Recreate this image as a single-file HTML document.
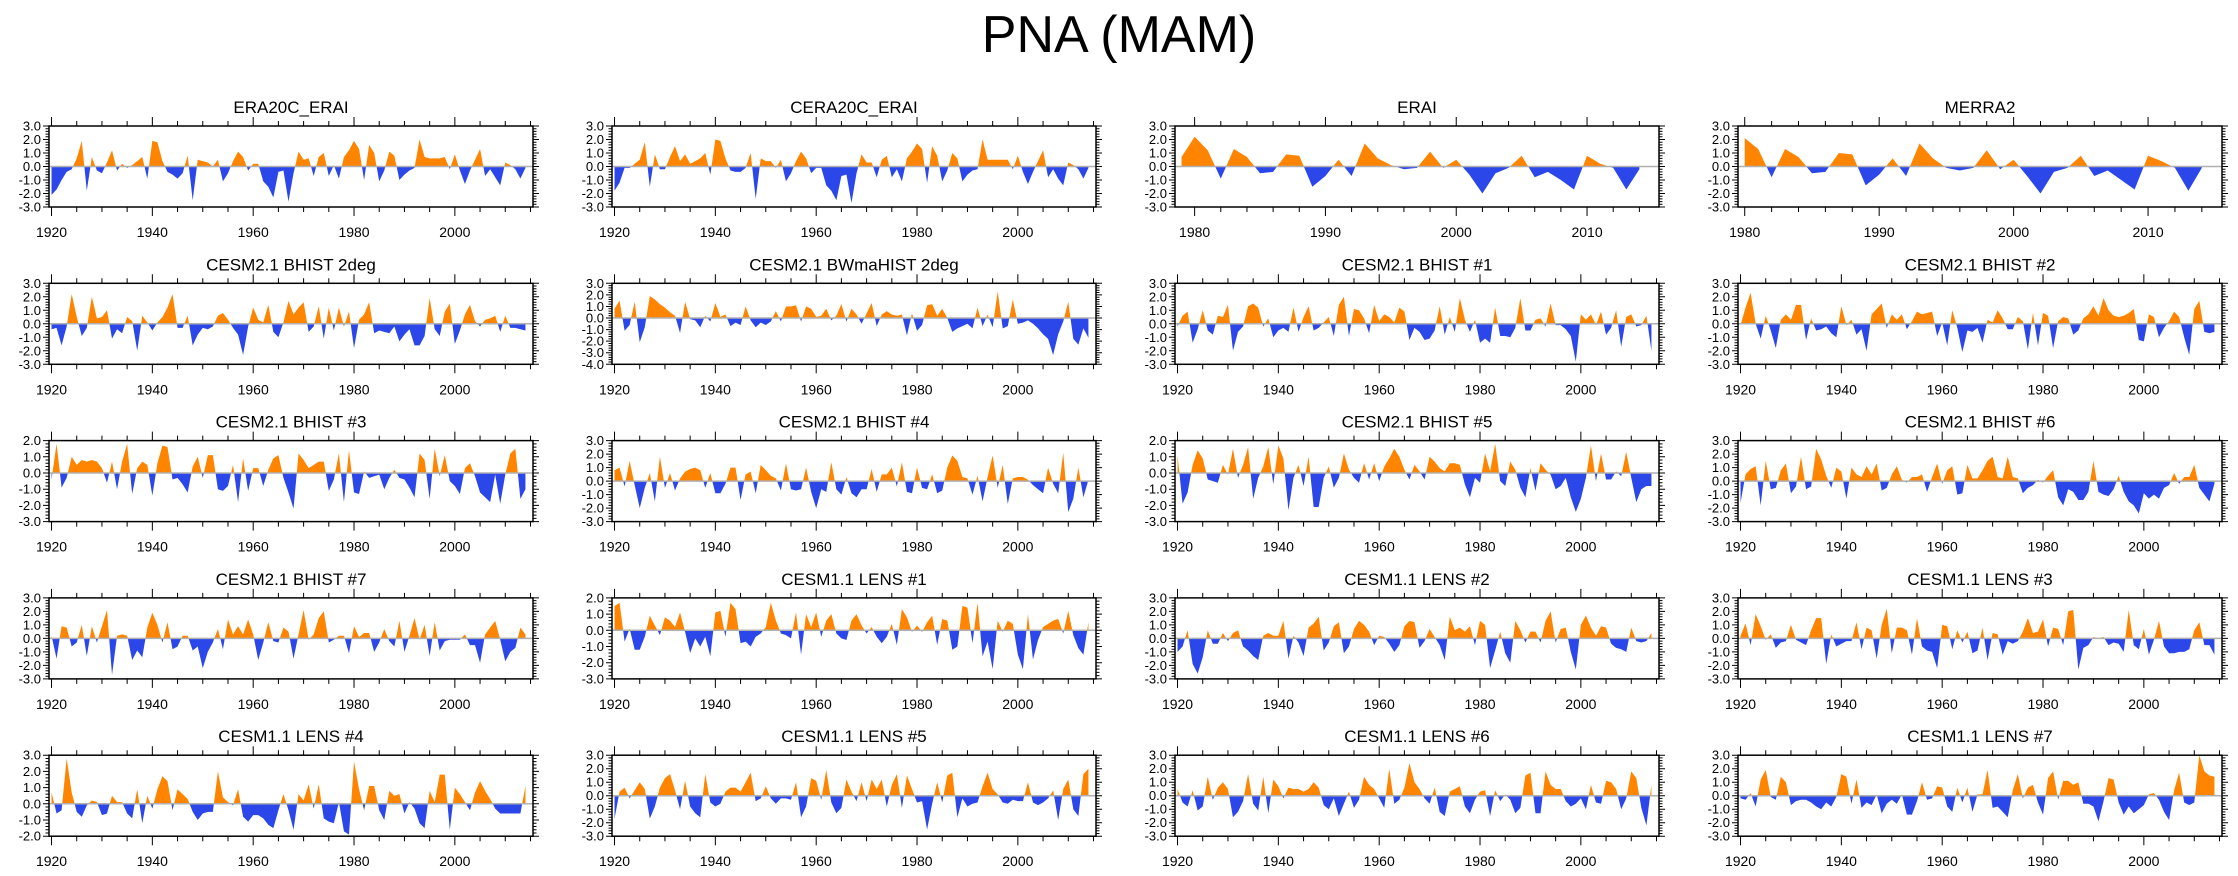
<!DOCTYPE html>
<html>
<head>
<meta charset="utf-8">
<style>
html,body{margin:0;padding:0;background:#fff;}
svg{display:block;font-family:"Liberation Sans",Arial,sans-serif;}
</style>
</head>
<body>
<svg id="chart" width="2238" height="876" viewBox="0 0 2238 876" xmlns="http://www.w3.org/2000/svg">
<text x="1119" y="52" text-anchor="middle" font-size="52" fill="#000">PNA (MAM)</text>
</svg>
<script>
// ---- data (PNA index anomalies, one value per year) ----
const titles = ["ERA20C_ERAI","CERA20C_ERAI","ERAI","MERRA2",
"CESM2.1 BHIST 2deg","CESM2.1 BWmaHIST 2deg","CESM2.1 BHIST #1","CESM2.1 BHIST #2",
"CESM2.1 BHIST #3","CESM2.1 BHIST #4","CESM2.1 BHIST #5","CESM2.1 BHIST #6",
"CESM2.1 BHIST #7","CESM1.1 LENS #1","CESM1.1 LENS #2","CESM1.1 LENS #3",
"CESM1.1 LENS #4","CESM1.1 LENS #5","CESM1.1 LENS #6","CESM1.1 LENS #7"];
const startYears = [1920,1920,1979,1980, 1920,1920,1920,1920, 1920,1920,1920,1920, 1920,1920,1920,1920, 1920,1920,1920,1920];
const yMins = [-3,-3,-3,-3, -3,-4,-3,-3, -3,-3,-3,-3, -3,-3,-3,-3, -2,-3,-3,-3];
const yMaxs = [3,3,3,3, 3,3,3,3, 2,3,2,3, 3,2,3,3, 3,3,3,3];

const era20c = [-2.1,-1.7,-1.0,-0.4,-0.2,0.6,1.9,-1.8,0.7,-0.3,
-0.5,0.3,1.2,-0.3,0.2,-0.1,0.1,0.4,0.7,-0.9,
1.9,1.8,0.4,-0.4,-0.6,-0.9,-0.5,0.8,-2.5,0.5,
0.4,0.3,0.0,0.5,-1.1,-0.5,0.4,1.1,0.7,-0.3,
0.2,0.2,-1.1,-1.5,-2.3,-0.4,-0.3,-2.6,-0.5,1.1,
0.5,0.6,-0.7,0.7,1.0,-0.7,0.1,-0.9,0.7,1.2,
1.9,1.3,-1.0,1.6,1.0,-1.1,-0.3,1.1,0.8,-1.0,
-0.6,-0.3,-0.1,2.0,0.7,0.6,0.6,0.6,0.7,-0.2,
0.9,-0.3,-1.3,-0.3,0.5,1.3,-0.7,-0.2,-0.8,-1.4,
0.3,0.1,-0.2,-0.9,-0.1];
const cera20c = [-1.8,-1.2,-0.1,-0.1,0.2,0.5,1.8,-1.5,0.9,-0.2,
-0.2,0.7,1.5,0.4,0.9,0.2,0.4,0.6,1.0,-0.6,
2.0,1.9,0.6,-0.3,-0.4,-0.4,-0.1,1.0,-2.4,0.6,
0.4,0.4,-0.1,0.5,-1.1,-0.5,0.4,1.1,0.6,-0.5,
-0.1,-0.1,-1.4,-1.8,-2.5,-0.7,-0.6,-2.7,-0.5,0.9,
0.3,0.3,-0.8,0.5,0.8,-0.8,-0.2,-1.1,0.6,1.1,
1.7,1.3,-1.2,1.5,0.8,-1.1,-0.3,1.0,0.6,-1.1,
-0.6,-0.3,-0.2,2.0,0.5,0.5,0.5,0.5,0.5,-0.2,
0.8,-0.4,-1.3,-0.4,0.4,1.2,-0.8,-0.2,-0.9,-1.4,
0.3,0.1,-0.2,-0.9,-0.1];
const erai = [0.7,2.2,1.2,-0.9,1.3,0.7,-0.5,-0.4,0.9,0.8,-1.5,-0.7,0.5,-0.7,1.7,0.6,0.1,-0.2,-0.1,1.1,-0.1,0.5,-0.6,-2.0,-0.5,-0.1,0.8,-0.8,-0.4,-1.0,-1.7,0.8,0.2,-0.1,-1.7,-0.2];
const merra2 = [2.1,1.3,-0.8,1.3,0.7,-0.5,-0.4,1.0,0.9,-1.4,-0.6,0.6,-0.7,1.7,0.6,-0.1,-0.3,-0.1,1.2,-0.2,0.5,-0.7,-2.0,-0.4,-0.1,0.8,-0.7,-0.3,-1.0,-1.7,0.8,0.4,-0.1,-1.8,-0.1];
const bhist2deg = [-0.4,-0.3,-1.6,-0.2,2.2,0.5,-0.9,-0.3,2.0,0.4,
0.5,1.0,-1.1,-0.4,-0.7,0.5,0.2,-2.0,0.6,0.1,
-0.5,0.1,0.5,1.2,2.2,-0.3,-0.3,0.6,-1.6,-0.8,
-0.3,-0.4,-0.2,0.6,0.8,0.3,-0.3,-0.8,-2.3,-0.2,
1.2,0.3,0.1,1.4,-0.6,-1.0,0.1,1.7,0.7,1.2,
1.6,-0.6,-0.2,1.3,-1.1,1.2,-0.5,1.2,-0.2,0.9,
-1.8,0.3,0.7,1.6,-0.7,-0.5,-0.6,-0.7,-0.2,-1.3,
-0.8,-0.4,-1.6,-1.6,-0.9,1.9,-0.4,-0.9,0.9,1.5,
-1.5,-0.5,0.7,1.4,0.2,-0.2,0.3,0.4,0.6,-0.6,
0.6,-0.3,-0.3,-0.4,-0.5];
const bwmahist = [0.8,1.5,-1.1,-0.6,1.4,-2.1,-0.8,1.9,1.6,1.2,
0.9,0.5,0.2,-1.3,1.4,-0.1,-0.2,-0.8,0.2,-0.3,
1.3,0.1,0.3,-0.7,-0.4,-0.6,1.0,-0.2,-0.8,-0.4,
-0.6,-0.3,0.6,-0.3,1.0,1.0,1.1,-0.3,1.0,0.8,
0.1,0.2,0.8,-0.2,0.2,1.2,-0.3,0.8,0.3,-0.5,
0.4,1.3,-0.7,0.3,0.6,0.3,0.2,0.3,-1.5,0.4,
-1.1,-0.6,1.1,1.2,0.2,0.8,0.0,-1.2,-0.9,-0.7,
-0.5,-0.9,0.9,-0.7,0.3,-0.8,2.3,-0.9,-0.7,1.6,
-0.5,-0.4,-0.2,-0.5,-0.9,-1.4,-1.8,-3.2,-1.4,-0.3,
1.4,-1.8,-2.3,-0.9,-1.7];
const bhist1 = [-0.2,0.6,0.9,-1.4,-0.4,1.0,-0.5,-0.8,0.6,0.5,
1.4,-2.0,-0.6,-0.2,1.3,1.5,1.2,-0.2,0.4,-1.0,
-0.5,-0.3,-0.6,1.2,-0.6,0.5,1.3,-0.5,-0.3,0.1,
0.5,-0.9,1.4,2.0,-0.9,1.1,1.0,0.4,-0.7,1.4,
0.2,0.7,0.5,0.1,1.2,0.9,-1.2,-0.3,-0.6,-1.2,
-1.1,-0.5,1.3,-0.8,0.5,-0.6,1.9,0.3,-0.6,0.3,
-1.4,-1.1,-1.4,1.2,-0.9,-0.9,-1.0,-0.3,1.9,-0.5,
-0.5,0.3,0.4,-0.2,1.5,-0.1,-0.1,-0.4,-0.9,-2.8,
0.7,0.3,0.7,-0.1,0.9,-0.8,-0.3,1.0,-1.7,0.5,
0.7,-0.2,-0.1,0.6,-2.0];
const bhist2 = [-0.1,1.2,2.3,0.0,-1.1,0.6,-0.5,-1.8,0.3,0.7,
0.3,1.4,1.4,-1.2,0.4,-0.5,-0.4,-0.2,-0.7,-1.0,
1.3,-0.1,0.3,-0.8,-0.4,-2.0,0.7,1.1,1.5,-0.3,
0.7,0.3,0.7,-0.4,0.2,0.9,0.7,0.8,0.9,-0.9,
0.1,-1.6,1.0,-0.3,-2.1,-0.5,-0.6,-0.3,-1.4,0.3,
0.1,1.0,0.4,-0.4,-0.4,0.5,0.2,-1.9,0.8,-1.6,
0.8,0.6,-1.8,0.2,0.5,0.4,-0.8,-0.5,0.4,0.7,
1.3,0.6,1.9,1.0,0.6,0.5,0.6,0.8,1.1,-1.2,
-1.3,0.7,0.5,-1.0,-0.3,0.2,0.9,0.5,-1.0,-2.3,
1.1,1.7,-0.6,-0.7,-0.6];
const bhist3 = [-0.4,1.8,-0.9,-0.3,1.0,0.5,0.8,0.7,0.8,0.7,
0.3,-0.6,0.7,-1.0,0.7,1.8,-1.3,0.3,0.7,0.5,
-1.4,0.6,1.7,1.6,-0.4,-0.3,-0.7,-1.2,0.4,1.0,
-0.3,1.1,1.1,-1.0,-1.1,-0.8,0.5,-1.8,0.9,-1.1,
0.3,0.3,-0.8,0.2,0.9,1.1,-0.3,-1.2,-2.2,1.2,
0.8,0.3,0.5,0.7,0.7,-1.1,-0.4,1.2,-1.8,1.4,
-1.2,-1.3,0.1,-0.3,-0.2,-0.1,-1.0,-0.3,0.2,-0.3,
-0.4,-0.9,-1.5,1.2,0.8,-1.6,1.5,-0.2,1.1,-0.5,
-0.8,-1.3,0.3,0.6,-0.2,-1.2,-1.5,-1.8,-0.1,-1.9,
-0.1,1.2,1.5,-1.6,-1.0];
const bhist4 = [0.8,1.0,-0.4,1.5,-0.3,-2.0,-0.5,0.6,-1.5,1.8,
-0.5,0.6,-0.7,0.2,0.7,0.9,1.0,0.8,-0.5,0.6,
-0.9,-0.9,-0.2,1.0,1.0,-1.4,0.5,0.7,-0.9,1.2,
0.8,0.4,0.2,-0.7,1.3,-0.6,-0.7,-0.6,1.0,-0.8,
-2.0,-0.6,-0.8,1.4,-0.6,-1.0,0.3,-0.9,-1.2,-0.6,
-0.6,0.9,-0.8,0.5,0.5,1.0,-0.4,1.4,-0.8,-0.9,
1.0,-0.5,-0.6,0.5,-0.9,-0.7,1.0,1.9,1.5,0.3,
0.2,-1.0,0.4,-1.5,0.3,1.9,-0.5,1.2,-1.7,0.2,
0.3,0.3,0.1,-0.3,-0.6,-0.9,1.0,-0.2,-0.9,2.1,
-2.3,-1.3,1.0,-1.2,0.1];
const bhist5 = [1.1,-1.9,-1.2,0.5,1.4,0.9,-0.4,-0.5,-0.6,0.5,
-0.1,1.5,-0.3,0.5,1.6,-1.6,-0.3,0.4,1.6,-0.7,
1.7,0.9,-2.3,-0.3,0.5,-0.8,1.0,-2.1,-2.1,-0.3,
0.4,-0.9,-0.3,1.2,0.2,-0.3,-0.6,0.6,-0.4,0.6,
-0.5,0.4,0.9,1.5,1.0,0.2,-0.4,0.5,0.1,-0.4,
1.0,0.7,0.3,0.1,0.6,0.6,0.5,-0.7,-1.5,-0.3,
-0.6,1.2,0.1,1.8,-0.5,-0.8,0.7,0.2,-0.9,-1.5,
0.3,-1.1,0.6,0.2,-0.1,-1.0,-0.8,-0.3,-1.5,-2.4,
-1.6,-0.3,1.7,-0.5,1.2,-0.4,-0.4,0.1,-0.2,1.3,
-0.3,-1.8,-1.0,-0.8,-0.8];
const bhist6 = [-1.6,0.5,0.9,1.1,-1.8,1.5,-0.6,-0.5,0.8,1.3,
-0.9,-0.4,1.8,-0.6,-0.4,2.4,1.6,0.4,-0.5,1.0,
0.7,-1.3,1.0,0.5,0.3,1.1,0.5,1.3,-0.7,-0.5,
0.5,1.1,0.1,-0.1,0.3,0.3,0.5,-0.8,0.3,1.3,
-0.2,0.8,1.1,-1.0,-0.9,1.2,0.2,0.2,0.8,1.5,
1.8,0.3,0.2,1.8,0.3,0.2,-0.9,-0.5,-0.3,0.1,
-0.1,0.4,0.8,-1.2,-1.8,-0.6,-0.8,-1.4,-1.4,-0.8,
1.5,-0.8,-1.0,-1.1,-0.6,0.4,-0.8,-1.5,-1.8,-2.4,
-0.9,-1.3,-1.0,-1.3,-0.5,-0.3,0.6,-0.2,0.3,0.3,
1.2,-0.5,-1.0,-1.5,-0.2];
const bhist7 = [0.2,-1.5,0.9,0.8,-0.6,-0.3,1.0,-1.3,0.9,-0.3,
0.9,2.1,-2.7,0.2,0.3,0.2,-1.6,-0.9,-1.4,0.8,
1.9,1.0,-0.3,1.2,-0.8,-0.6,0.2,0.2,-0.9,-0.6,
-2.2,-1.0,-0.3,0.7,-0.8,1.4,0.3,0.9,0.3,1.4,
0.3,-1.6,-0.3,1.2,-0.2,-0.3,0.8,0.5,-1.5,0.3,
2.1,-0.1,0.3,1.5,2.0,-0.3,-0.1,0.2,0.2,-1.1,
0.9,0.1,0.4,0.4,-1.0,-0.3,0.7,-0.2,-0.6,1.3,
-1.0,0.2,1.5,-0.1,1.0,-1.3,1.2,-0.9,-0.2,-0.1,
-0.1,-0.1,0.3,-0.5,-0.5,-1.8,0.3,0.8,1.3,-0.1,
-1.7,-1.0,-0.7,0.8,0.3];
const lens1 = [1.5,1.7,-0.7,0.1,-1.2,-1.2,-0.4,0.9,0.3,-0.3,
0.8,0.6,0.2,1.1,-0.1,-1.4,-0.5,-1.0,-0.4,-1.6,
1.1,1.2,-0.4,1.7,1.3,-0.8,-0.7,-1.0,-0.4,-0.2,
0.2,1.7,0.6,-0.2,-0.3,-0.5,1.1,-1.5,1.0,0.2,
1.1,-0.4,0.6,1.0,-0.2,-0.5,-0.6,0.6,1.0,0.3,
-0.2,0.2,-0.4,-0.8,-0.4,0.4,-0.9,1.3,0.8,-0.1,
0.3,-0.1,0.5,0.9,-0.9,0.7,0.6,-1.2,-1.0,1.5,
1.4,-0.8,1.7,-1.6,-0.7,-2.4,0.6,-0.1,0.6,0.4,
-1.5,-2.4,1.0,-1.8,-0.6,0.2,0.4,0.6,0.7,-0.2,
1.2,-0.3,-1.1,-1.5,0.5];
const lens2 = [-1.0,-0.6,0.6,-1.9,-2.6,-1.4,0.6,-0.4,-0.4,0.4,
-0.2,0.4,0.6,-0.6,-0.9,-1.3,-1.6,0.2,0.4,0.2,
0.2,1.3,-1.5,0.2,-0.3,-1.3,0.8,1.1,1.6,-0.9,
-0.3,0.9,1.2,-1.1,-0.6,0.7,1.3,1.0,0.5,-0.5,
0.2,0.1,-0.4,-1.0,-0.5,0.9,1.3,1.2,-0.7,-0.2,
0.7,0.1,-0.5,-1.6,1.6,0.6,0.8,0.5,0.9,-0.5,
1.3,1.0,-2.2,-0.9,0.5,-1.1,-1.8,1.3,0.6,-0.3,
0.5,0.5,-0.3,1.3,2.0,-0.3,0.7,0.8,-1.0,-2.3,
1.0,1.7,0.8,0.2,0.9,0.8,-0.4,-0.7,-0.8,-1.0,
0.8,-0.2,-0.3,-0.2,0.4];
const lens3 = [0.2,1.1,-0.5,1.8,0.9,-0.1,0.3,-0.7,-0.3,-0.2,
1.0,-0.1,-0.3,-0.5,0.6,1.5,1.5,-1.9,0.3,-0.6,
-0.4,-0.2,-0.2,1.2,-0.8,0.8,0.6,-1.5,1.0,2.2,
-1.1,0.8,0.8,0.6,-1.2,1.5,-0.6,-0.9,-1.0,-2.2,
1.0,0.9,-0.8,0.6,-0.3,0.5,-1.1,-0.9,0.8,-1.6,
0.4,0.3,-1.2,-0.2,-0.4,-0.2,0.5,1.5,0.4,0.5,
1.4,-0.6,0.8,0.7,-0.5,2.0,2.1,-2.3,-0.7,-0.5,
0.1,0.0,0.1,-0.5,-0.3,-0.4,-1.0,2.1,-0.5,-0.8,
0.7,-1.2,-0.1,1.3,-0.6,-1.1,-1.1,-1.0,-1.0,-0.8,
0.6,1.2,-0.5,-0.5,-1.2];
const lens4 = [0.7,-0.6,-0.4,2.8,0.7,-0.5,-0.8,-0.1,0.2,0.1,
-0.7,-0.6,0.5,0.1,0.1,-0.6,-0.9,0.9,-1.2,0.5,
-0.3,0.9,1.7,1.4,-0.4,0.9,0.6,0.3,-0.5,-1.0,
-0.6,-0.5,-0.5,2.0,0.4,0.1,-0.1,0.9,-0.8,-1.1,
-0.7,-0.7,-0.9,-1.3,-1.5,-0.4,0.6,-0.4,-1.6,0.6,
0.2,1.2,-0.3,1.2,-0.9,-1.1,-1.2,0.1,-1.7,-1.9,
2.6,0.9,-0.4,1.1,1.1,-0.4,-1.0,0.8,0.5,0.6,
-0.6,0.1,-0.3,-1.2,-1.5,0.8,0.1,1.8,1.8,-1.6,
1.0,0.6,0.1,-0.4,0.7,1.4,0.8,0.3,-0.3,-0.6,
-0.6,-0.6,-0.6,-0.6,1.1];
const lens5 = [-1.7,0.3,0.6,-0.2,0.4,1.0,0.5,-1.7,-0.8,0.6,
1.3,1.6,0.4,-1.0,1.1,-0.8,-1.3,-1.6,1.6,-0.5,
-0.8,-0.6,0.3,0.6,0.6,0.3,1.0,1.7,-0.4,-0.2,
0.7,-0.2,-0.6,-0.2,-0.2,-0.3,1.0,-1.6,-0.8,1.3,
1.1,-0.3,1.9,-0.5,-1.3,-0.9,1.2,0.3,-0.4,1.0,
-0.4,1.2,0.5,1.2,-0.8,0.8,1.6,-0.9,1.5,0.5,
-0.5,-0.4,-2.5,-0.6,1.0,-0.5,1.5,1.7,-1.6,-0.2,
-0.8,-0.6,-0.5,0.7,1.7,0.5,0.1,-0.5,-0.6,-0.3,
-0.4,-0.4,1.0,-0.5,-0.7,-0.5,-0.2,0.4,-1.8,0.5,
1.2,-1.0,-1.5,1.6,2.0];
const lens6 = [0.5,-0.5,-0.8,0.4,-1.1,-0.8,1.4,-0.3,0.6,1.0,
0.5,-1.6,-1.2,-0.4,1.6,-0.6,-1.1,1.4,-1.3,1.2,
0.7,-0.2,0.6,0.5,0.5,0.3,0.5,1.0,0.6,-0.7,
-1.0,-0.2,-1.5,-0.6,0.3,-0.9,-0.3,1.4,0.8,0.5,
-0.2,-0.9,2.0,-0.6,-0.3,0.6,2.4,1.0,0.5,-0.2,
-0.6,0.6,-1.2,-1.5,0.3,0.5,0.7,-0.8,-1.3,-0.3,
0.3,0.4,-1.5,0.4,-0.4,0.1,-0.3,-1.3,-0.9,1.5,
1.7,-1.3,-1.3,1.8,0.8,0.5,0.5,-0.4,-0.8,-0.6,
-0.2,-1.0,0.8,-0.5,-0.6,1.1,1.0,0.5,-1.0,-0.2,
1.8,1.3,-0.9,-2.2,0.8];
const lens7 = [-0.2,-0.3,0.2,-0.8,1.2,1.9,-0.1,-0.3,1.4,1.0,
-0.7,-0.4,-0.3,-0.3,-0.5,-0.8,-1.0,-0.5,-0.8,-0.1,
1.6,1.4,-0.6,1.2,-0.9,-0.5,-0.7,0.1,-1.3,-0.6,
-0.3,-0.6,0.1,-1.4,-1.4,-0.4,1.0,-0.3,-0.2,0.7,
0.6,-0.8,-1.2,0.6,-0.5,0.6,-1.2,0.1,0.1,1.9,
-0.9,-0.8,-1.2,-1.6,0.4,1.6,-0.2,0.6,0.8,-0.5,
-1.4,1.3,1.8,-0.3,1.1,1.1,0.8,1.0,-0.6,-0.6,
-0.8,-1.9,-0.4,1.3,1.2,-0.5,-1.4,-0.8,-1.3,-1.0,
-0.7,0.1,0.2,-0.3,-1.2,-1.8,0.4,1.7,-0.5,-0.7,
-0.5,3.0,1.8,1.5,1.4];

const series = [era20c,cera20c,erai,merra2,bhist2deg,bwmahist,bhist1,bhist2,bhist3,bhist4,bhist5,bhist6,bhist7,lens1,lens2,lens3,lens4,lens5,lens6,lens7];
const panelNames = ["era20c-erai","cera20c-erai","erai","merra2","cesm2-bhist-2deg","cesm2-bwmahist-2deg","cesm2-bhist-1","cesm2-bhist-2","cesm2-bhist-3","cesm2-bhist-4","cesm2-bhist-5","cesm2-bhist-6","cesm2-bhist-7","cesm1-lens-1","cesm1-lens-2","cesm1-lens-3","cesm1-lens-4","cesm1-lens-5","cesm1-lens-6","cesm1-lens-7"];

const NS = "http://www.w3.org/2000/svg";
const svg = document.getElementById('chart');
const ORANGE = "#ff8400", BLUE = "#2b47ea";
function mk(tag, attrs, parent){
  const e = document.createElementNS(NS, tag);
  for (const k in attrs) e.setAttribute(k, attrs[k]);
  parent.appendChild(e);
  return e;
}

for (let p = 0; p < 20; p++) {
  const col = p % 4, row = Math.floor(p / 4);
  const L = 49 + col * 563, W = 484;
  const T = 126 + row * 157.3, H = 81;
  const data = series[p], y0 = startYears[p];
  const short = y0 > 1950;
  const xmin = short ? y0 - 0.5 : 1919.5;
  const xmax = 2015.5;
  const ymin = yMins[p], ymax = yMaxs[p];
  const xs = v => L + (v - xmin) / (xmax - xmin) * W;
  const ys = v => T + (ymax - v) / (ymax - ymin) * H;

  const g = mk('g', {}, svg);
  
  

  const title = mk('text', {x: L + W/2, y: T - 13, 'text-anchor':'middle', 'font-size':'17', fill:'#000'}, g);
  
  
  title.textContent = titles[p];

  const pts = [];
  for (let i = 0; i < data.length; i++) {
    const yr = y0 + i, v = data[i];
    if (i > 0) {
      const pv = data[i-1];
      if ((pv > 0 && v < 0) || (pv < 0 && v > 0)) {
        const t = pv / (pv - v);
        pts.push([yr - 1 + t, 0]);
      }
    }
    pts.push([yr, v]);
  }
  const first = pts[0][0], last = pts[pts.length-1][0];
  let up = `M${xs(first)},${ys(0)}`, dn = up;
  for (const [yr, v] of pts) {
    up += `L${xs(yr).toFixed(2)},${ys(Math.max(v,0)).toFixed(2)}`;
    dn += `L${xs(yr).toFixed(2)},${ys(Math.min(v,0)).toFixed(2)}`;
  }
  up += `L${xs(last)},${ys(0)}Z`; dn += `L${xs(last)},${ys(0)}Z`;
  const pu = mk('path', {d: up, fill: ORANGE, stroke:'none'}, g);
  
  
  const pd = mk('path', {d: dn, fill: BLUE, stroke:'none'}, g);
  
  

  const zl = mk('line', {x1: L, x2: L+W, y1: ys(0), y2: ys(0), stroke:'#b0b0b0', 'stroke-width':'1.5'}, g);
  
  

  const fr = mk('rect', {x: L, y: T, width: W, height: H, fill:'none', stroke:'#000', 'stroke-width':'1.5'}, g);
  
  

  let tk = '';
  const nMinor = Math.round((ymax - ymin) / 0.2);
  for (let k = 0; k <= nMinor; k++) {
    const v = ymin + k * 0.2, yy = ys(v).toFixed(2);
    const major = (k % 5 === 0), len = major ? 6 : 3.5;
    tk += `M${L},${yy}h${-len}M${L+W},${yy}h${len}`;
  }
  const majStep = short ? 10 : 20, minStep = short ? 2 : 5;
  const yStart = Math.ceil(xmin / minStep) * minStep;
  for (let yr = yStart; yr <= xmax; yr += minStep) {
    const xx = xs(yr).toFixed(2);
    const len = (yr % majStep === 0) ? 9 : 5;
    tk += `M${xx},${T}v${-len}M${xx},${T+H}v${len}`;
  }
  const tp = mk('path', {d: tk, stroke:'#000', 'stroke-width':'1', fill:'none'}, g);
  
  

  for (let v = ymin; v <= ymax; v++) {
    const t = mk('text', {x: L - 8, y: ys(v) + 4.5, 'text-anchor':'end', 'font-size':'13', fill:'#000'}, g);
    
    
    t.textContent = v.toFixed(1);
  }
  for (let yr = Math.ceil(xmin / majStep) * majStep; yr <= xmax; yr += majStep) {
    const t = mk('text', {x: xs(yr), y: T + H + 30, 'text-anchor':'middle', 'font-size':'14', fill:'#000'}, g);
    
    
    t.textContent = yr;
  }
}
</script>
</body>
</html>
